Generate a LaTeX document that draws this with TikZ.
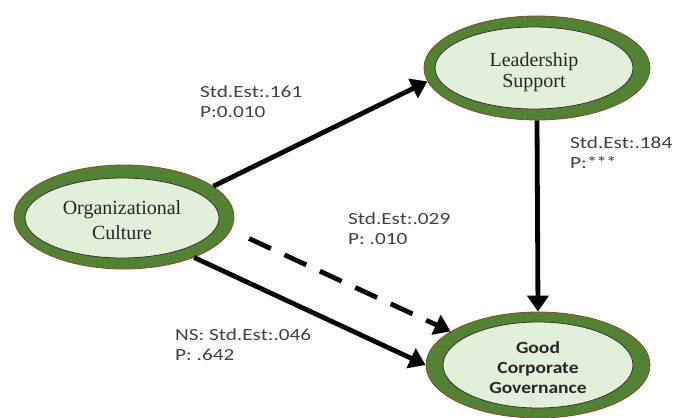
\documentclass[tikz,border=0pt]{standalone}
\usepackage{fontspec}
\setmainfont{Liberation Serif}
\newfontfamily\labfont[FakeStretch=1.25]{Carlito}
\newfontfamily\gcgfont[FakeStretch=1.15]{Carlito}
\usetikzlibrary{shapes.geometric,arrows.meta}
\definecolor{ringgreen}{HTML}{548235}
\definecolor{coregreen}{HTML}{E2EFD9}
\definecolor{ringedge}{HTML}{7F4F24}

\begin{document}
\begin{tikzpicture}[x=1pt,y=-1pt,
  ring/.style={ellipse,draw=ringedge,line width=0.8pt,fill=ringgreen,inner sep=0pt},
  core/.style={ellipse,draw=black!80,line width=0.8pt,fill=coregreen,inner sep=0pt},
  ovaltext/.style={align=center,inner sep=0pt,text=black!85},
  est/.style={anchor=west,align=left,inner sep=0pt,text=black!75,font=\labfont\fontsize{17}{20}\selectfont},
  link/.style={line width=4.8pt,-{Triangle[length=16pt,width=21pt]}}]
\useasboundingbox (0,0) rectangle (676,417);

\node[ring,minimum width=220,minimum height=104] (oc) at (124,217) {};
\node[core,minimum width=194,minimum height=80] (occore) at (122,218) {};
\node[ovaltext,font=\fontsize{20}{25}\selectfont] (octext) at (122,220) {Organizational\\Culture};

\node[ring,minimum width=226,minimum height=104] (ls) at (537,68) {};
\node[core,minimum width=198,minimum height=82] (lscore) at (534,68) {};
\node[ovaltext,font=\fontsize{20}{21}\selectfont] (lstext) at (534,72) {Leadership\\Support};

\node[ring,minimum width=224,minimum height=106] (gcg) at (538,365) {};
\node[core,minimum width=190,minimum height=86] (gcgcore) at (538,365) {};
\node[ovaltext,font=\gcgfont\bfseries\fontsize{17}{20}\selectfont] (gcgtext) at (538,368) {Good\\Corporate\\Governance};

\draw[link] (oc.19) -- (ls.187);
\draw[link] (ls.south) -- (gcg.north);
\draw[link] (oc.-30) -- (gcg.180);
\draw[link,dash pattern=on 24pt off 15pt,shorten <=20pt] (oc.-7) -- (gcg.159);

\node[est] (e161) at (200,102) {Std.Est:.161\\P:0.010};
\node[est] (e184) at (570,153) {Std.Est:.184\\P:*\kern-1pt*\kern-1pt*};
\node[est] (e029) at (348,229) {Std.Est:.029\\P: .010};
\node[est] (e046) at (175,345) {NS: Std.Est:.046\\P: .642};

\end{tikzpicture}
\end{document}
